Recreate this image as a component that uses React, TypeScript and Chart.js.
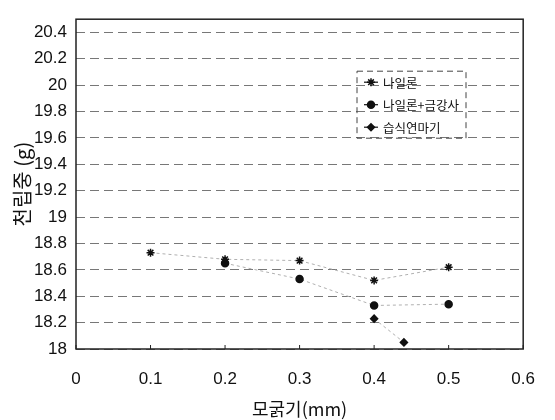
import { useEffect, useRef } from "react";
import { Chart, registerables } from "chart.js";

Chart.register(...registerables);

const SERIES_NAMES = ["나일론", "나일론+금강사", "습식연마기"];
const NYLON_X = [0.1, 0.2, 0.3, 0.4, 0.5];
const NYLON_Y = [18.73, 18.68, 18.67, 18.52, 18.62];
const EMERY_X = [0.2, 0.3, 0.4, 0.5];
const EMERY_Y = [18.65, 18.53, 18.33, 18.34];
const WET_X = [0.4, 0.44];
const WET_Y = [18.23, 18.05];
const Y_TICKS = [18, 18.2, 18.4, 18.6, 18.8, 19, 19.2, 19.4, 19.6, 19.8, 20, 20.2, 20.4];
const X_TICKS = [0, 0.1, 0.2, 0.3, 0.4, 0.5, 0.6];
const X_TITLE = "모굵기(mm)";
const Y_TITLE = "천립중 (g)";

const NUM_FONT = "'Liberation Sans', Arial, sans-serif";
const KR_FONT = "'Noto Sans CJK KR', 'Noto Sans', sans-serif";

const POINT_STYLES = ["star", "circle", "rectRot"] as const;
const POINT_SIZES = [4, 3.5, 3.5];

const framePlugin = {
  id: "framePlugin",
  afterDraw(chart: any) {
    const { ctx, chartArea: a, scales } = chart;
    ctx.save();
    ctx.strokeStyle = "#222";
    ctx.lineWidth = 1.5;
    ctx.strokeRect(a.left, a.top, a.right - a.left, a.bottom - a.top);
    ctx.lineWidth = 1;
    X_TICKS.forEach((v) => {
      const px = scales.x.getPixelForValue(v);
      ctx.beginPath();
      ctx.moveTo(px, a.bottom);
      ctx.lineTo(px, a.bottom - 4);
      ctx.stroke();
    });
    const lx = a.left + 281;
    const ly = a.top + 52;
    const lw = 109;
    const lh = 67;
    ctx.setLineDash([6, 4]);
    ctx.strokeStyle = "#444";
    ctx.strokeRect(lx, ly, lw, lh);
    ctx.setLineDash([]);
    ctx.font = `12.5px ${KR_FONT}`;
    ctx.textBaseline = "middle";
    SERIES_NAMES.forEach((name, i) => {
      const cy = ly + 11 + i * 22.5;
      const mx = lx + 14;
      ctx.strokeStyle = "#111";
      ctx.lineWidth = 1.2;
      ctx.beginPath();
      ctx.moveTo(mx - 7, cy);
      ctx.lineTo(mx + 7, cy);
      ctx.stroke();
      const el = chart.getDatasetMeta(i).data[0];
      if (el) {
        const ox = el.x;
        const oy = el.y;
        el.x = mx;
        el.y = cy;
        el.draw(ctx);
        el.x = ox;
        el.y = oy;
      }
      ctx.fillStyle = "#111";
      ctx.fillText(name, lx + 26, cy + 1);
    });
    ctx.restore();
  },
};

function makeData(xs: number[], ys: number[]) {
  return xs.map((x, i) => ({ x, y: ys[i] }));
}

export default function App() {
  const ref = useRef<HTMLCanvasElement>(null);
  useEffect(() => {
    if (!ref.current) return;
    const sets = [
      makeData(NYLON_X, NYLON_Y),
      makeData(EMERY_X, EMERY_Y),
      makeData(WET_X, WET_Y),
    ];
    const chart = new Chart(ref.current, {
      type: "scatter",
      data: {
        datasets: sets.map((d, i) => ({
          label: SERIES_NAMES[i],
          data: d,
          showLine: true,
          borderColor: "#b0b0b0",
          borderWidth: 1,
          borderDash: [3, 3],
          pointStyle: POINT_STYLES[i],
          pointRadius: POINT_SIZES[i],
          pointBackgroundColor: "#111",
          pointBorderColor: "#111",
          pointBorderWidth: 1.5,
        })),
      },
      options: {
        animation: false,
        responsive: false,
        devicePixelRatio: 1,
        layout: { padding: { left: 0, top: 11, right: 27, bottom: 0 } },
        plugins: { legend: { display: false }, tooltip: { enabled: false } },
        scales: {
          x: {
            type: "linear",
            min: 0,
            max: 0.6,
            afterBuildTicks: (s: any) => {
              s.ticks = X_TICKS.map((v) => ({ value: v }));
            },
            afterFit: (s: any) => {
              s.height = 71;
            },
            grid: { display: false, drawTicks: false },
            border: { display: false },
            ticks: {
              padding: 20,
              color: "#111",
              font: { family: NUM_FONT, size: 17 },
              callback: (v: any) => String(Number(Number(v).toFixed(1))),
            },
            title: {
              display: true,
              text: X_TITLE,
              color: "#111",
              font: { family: KR_FONT, size: 18 },
              padding: { top: 0, bottom: 0 },
            },
          },
          y: {
            type: "linear",
            min: 18,
            max: 20.5,
            afterBuildTicks: (s: any) => {
              s.ticks = Y_TICKS.map((v) => ({ value: v }));
            },
            afterFit: (s: any) => {
              s.width = 76;
            },
            grid: { color: "#777", lineWidth: 1, drawTicks: false },
            border: { display: false, dash: [9, 5] },
            ticks: {
              padding: 9,
              color: "#111",
              font: { family: NUM_FONT, size: 17 },
              callback: (v: any) => String(Number(Number(v).toFixed(1))),
            },
            title: {
              display: true,
              text: Y_TITLE,
              color: "#111",
              font: { family: KR_FONT, size: 20 },
              padding: { top: 10, bottom: 0 },
            },
          },
        },
      },
      plugins: [framePlugin],
    });
    return () => chart.destroy();
  }, []);
  return (
    <div style={{ position: "absolute", left: 0, top: 0, width: 555, height: 420, background: "#fff" }}>
      <canvas ref={ref} width={555} height={420} style={{ width: 555, height: 420 }} />
    </div>
  );
}
